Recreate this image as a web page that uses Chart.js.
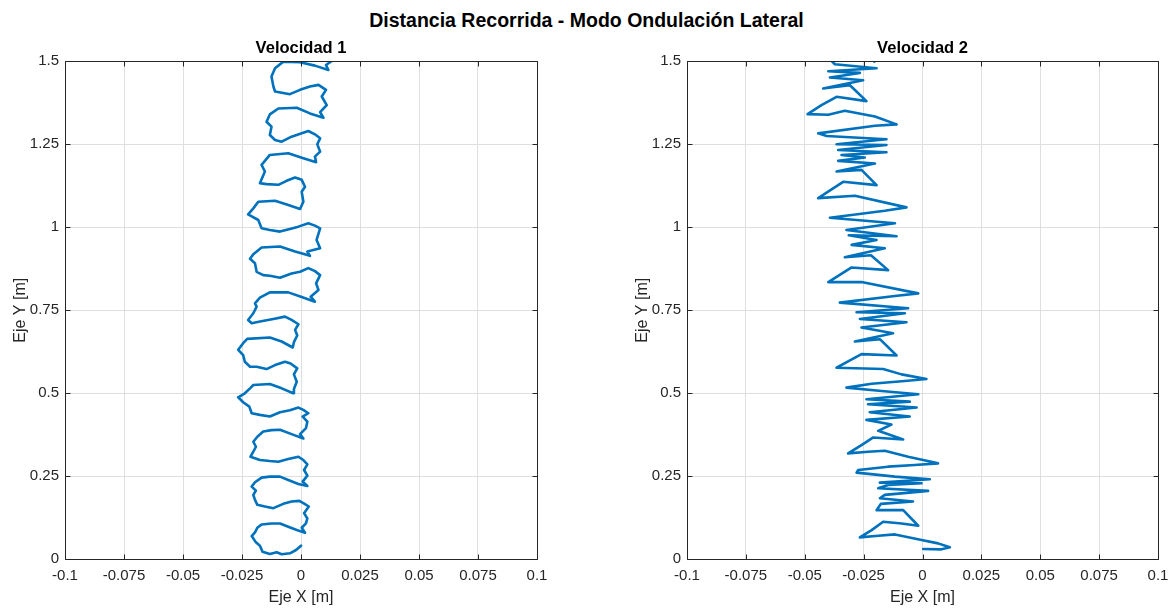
<!DOCTYPE html>
<html>
<head>
<meta charset="utf-8">
<script src="https://cdn.jsdelivr.net/npm/chart.js@4.4.1/dist/chart.umd.min.js"></script>
<style>
  html, body { margin: 0; padding: 0; background: #fff; }
  #wrap { position: relative; width: 1172px; height: 610px; background: #fff; overflow: hidden; }
  #mainTitle { position: absolute; left: 0; width: 1173px; top: 9.5px; height: 20px; line-height: 20px;
    text-align: center; font-family: 'Liberation Sans', Arial, Helvetica, sans-serif; font-weight: bold;
    font-size: 19.5px; color: #000; white-space: nowrap; }
  .pane { position: absolute; top: 0; width: 586px; height: 610px; }
</style>
</head>
<body>
<div id="wrap">
  <div id="mainTitle">Distancia Recorrida - Modo Ondulación Lateral</div>
  <div class="pane" style="left:0"><canvas id="c1" width="586" height="610"></canvas></div>
  <div class="pane" style="left:586px"><canvas id="c2" width="586" height="610"></canvas></div>
</div>
<script>
// ---- Data ----
const mainTitle = 'Distancia Recorrida - Modo Ondulación Lateral';
const subTitles = ['Velocidad 1', 'Velocidad 2'];
const xAxisTitle = 'Eje X [m]';
const yAxisTitle = 'Eje Y [m]';

const xTickValues = [-0.1, -0.075, -0.05, -0.025, 0, 0.025, 0.05, 0.075, 0.1];
const xTickLabels = ['-0.1', '-0.075', '-0.05', '-0.025', '0', '0.025', '0.05', '0.075', '0.1'];
const yTickValues = [0, 0.25, 0.5, 0.75, 1, 1.25, 1.5];
const yTickLabels = ['0', '0.25', '0.5', '0.75', '1', '1.25', '1.5'];

// Velocidad 1 trajectory
const v1X = [0.0000,-0.0021,-0.0047,-0.0082,-0.0103,-0.0132,-0.0163,-0.0174,-0.0191,-0.0209,
-0.0195,-0.0185,-0.0167,-0.0125,-0.0089,-0.0054,-0.0018,0.0017,0.0003,0.0021,
0.0027,0.0013,0.0033,0.0010,-0.0007,-0.0040,-0.0075,-0.0117,-0.0153,-0.0185,
-0.0195,-0.0202,-0.0191,-0.0209,-0.0195,-0.0167,-0.0132,-0.0089,-0.0054,-0.0011,
0.0027,0.0007,0.0027,0.0013,0.0027,0.0010,-0.0011,-0.0054,-0.0096,-0.0132,
-0.0174,-0.0214,-0.0202,-0.0191,-0.0202,-0.0185,-0.0160,-0.0125,-0.0089,-0.0040,
0.0010,-0.0004,0.0021,0.0027,0.0007,0.0031,0.0010,-0.0011,-0.0047,-0.0089,
-0.0132,-0.0174,-0.0209,-0.0219,-0.0245,-0.0266,-0.0238,-0.0216,-0.0202,-0.0132,
-0.0082,-0.0033,-0.0030,-0.0018,-0.0030,-0.0016,-0.0044,-0.0068,-0.0110,-0.0146,
-0.0188,-0.0216,-0.0238,-0.0245,-0.0266,-0.0245,-0.0228,-0.0132,-0.0082,-0.0035,
-0.0030,-0.0016,-0.0025,-0.0011,-0.0040,-0.0068,-0.0117,-0.0174,-0.0209,-0.0224,
-0.0202,-0.0188,-0.0195,-0.0174,-0.0132,-0.0054,0.0003,0.0059,0.0041,0.0074,
0.0064,0.0081,0.0059,0.0031,-0.0004,-0.0040,-0.0089,-0.0132,-0.0160,-0.0188,
-0.0195,-0.0216,-0.0202,-0.0167,-0.0089,-0.0025,0.0038,0.0027,0.0081,0.0066,
0.0081,0.0059,0.0031,-0.0011,-0.0047,-0.0089,-0.0132,-0.0167,-0.0181,-0.0224,
-0.0202,-0.0181,-0.0110,-0.0054,-0.0004,0.0010,0.0003,0.0017,0.0003,-0.0025,
-0.0061,-0.0096,-0.0146,-0.0174,-0.0153,-0.0167,-0.0132,-0.0054,0.0010,0.0064,
0.0059,0.0081,0.0069,0.0081,0.0059,0.0031,-0.0040,-0.0082,-0.0110,-0.0132,
-0.0125,-0.0146,-0.0132,-0.0096,-0.0018,0.0038,0.0095,0.0081,0.0109,0.0088,
0.0106,0.0074,0.0038,-0.0004,-0.0047,-0.0110,-0.0117,-0.0125,-0.0110,-0.0075,
-0.0004,0.0059,0.0116,0.0106,0.0137,0.0151];
const v1Y = [0.041,0.028,0.018,0.015,0.021,0.016,0.023,0.041,0.051,0.070,
0.081,0.095,0.105,0.108,0.108,0.098,0.088,0.080,0.095,0.108,
0.123,0.139,0.159,0.169,0.176,0.174,0.167,0.154,0.159,0.164,
0.179,0.194,0.207,0.219,0.232,0.246,0.249,0.249,0.239,0.227,
0.221,0.234,0.252,0.269,0.286,0.299,0.309,0.302,0.294,0.296,
0.299,0.309,0.324,0.339,0.354,0.369,0.385,0.389,0.390,0.377,
0.364,0.377,0.395,0.415,0.430,0.440,0.450,0.457,0.449,0.443,
0.430,0.435,0.440,0.460,0.473,0.488,0.500,0.515,0.525,0.528,
0.515,0.500,0.513,0.535,0.557,0.575,0.590,0.595,0.585,0.573,
0.580,0.580,0.595,0.615,0.631,0.651,0.664,0.668,0.656,0.638,
0.654,0.674,0.691,0.708,0.721,0.731,0.724,0.716,0.711,0.721,
0.741,0.761,0.771,0.788,0.804,0.804,0.790,0.776,0.791,0.811,
0.831,0.856,0.868,0.877,0.866,0.861,0.848,0.854,0.856,0.866,
0.892,0.905,0.919,0.939,0.942,0.927,0.914,0.927,0.937,0.962,
0.997,1.005,1.012,1.002,0.995,0.987,0.992,0.997,1.022,1.039,
1.057,1.077,1.080,1.067,1.055,1.077,1.107,1.122,1.143,1.150,
1.140,1.128,1.130,1.133,1.168,1.188,1.218,1.223,1.208,1.196,
1.213,1.228,1.250,1.268,1.280,1.290,1.273,1.258,1.263,1.278,
1.303,1.318,1.340,1.358,1.360,1.343,1.330,1.347,1.368,1.394,
1.414,1.429,1.424,1.414,1.401,1.409,1.424,1.454,1.479,1.499,
1.497,1.487,1.474,1.489,1.504,1.514];

// Velocidad 2 trajectory
const v2X = [0.0003,0.0081,0.0116,0.0066,-0.0004,-0.0117,-0.0188,-0.0266,-0.0216,-0.0167,
-0.0089,-0.0018,-0.0082,-0.0195,-0.0177,-0.0040,-0.0181,-0.0160,0.0024,-0.0188,
-0.0146,-0.0004,-0.0181,0.0031,-0.0117,-0.0280,-0.0273,-0.0146,-0.0033,0.0066,
-0.0061,-0.0160,-0.0231,-0.0316,-0.0259,-0.0209,-0.0146,-0.0082,-0.0188,-0.0132,
-0.0238,-0.0054,-0.0224,-0.0025,-0.0231,-0.0054,-0.0238,-0.0018,-0.0174,-0.0323,
-0.0216,-0.0075,0.0017,-0.0089,-0.0167,-0.0365,-0.0316,-0.0259,-0.0110,-0.0181,
-0.0287,-0.0125,-0.0259,-0.0068,-0.0266,-0.0075,-0.0280,-0.0061,-0.0351,-0.0117,
-0.0018,-0.0259,-0.0400,-0.0301,-0.0146,-0.0219,-0.0330,-0.0160,-0.0301,-0.0195,
-0.0313,-0.0110,-0.0323,-0.0117,-0.0393,-0.0160,-0.0068,-0.0287,-0.0443,-0.0386,
-0.0337,-0.0195,-0.0259,-0.0365,-0.0202,-0.0358,-0.0245,-0.0344,-0.0153,-0.0358,
-0.0153,-0.0365,-0.0153,-0.0407,-0.0443,-0.0202,-0.0110,-0.0202,-0.0330,-0.0400,
-0.0488,-0.0429,-0.0365,-0.0238,-0.0308,-0.0372,-0.0422,-0.0252,-0.0393,-0.0266,
-0.0400,-0.0195,-0.0372,-0.0393,-0.0386,-0.0231,-0.0205];
const v2Y = [0.031,0.030,0.036,0.048,0.058,0.075,0.071,0.066,0.088,0.113,
0.108,0.101,0.148,0.148,0.167,0.174,0.184,0.194,0.206,0.214,
0.224,0.229,0.231,0.241,0.249,0.261,0.269,0.279,0.284,0.289,
0.309,0.327,0.324,0.319,0.344,0.367,0.364,0.361,0.387,0.406,
0.420,0.430,0.443,0.457,0.467,0.475,0.482,0.497,0.507,0.517,
0.529,0.537,0.543,0.557,0.573,0.577,0.596,0.618,0.614,0.663,
0.656,0.681,0.698,0.714,0.724,0.741,0.744,0.756,0.773,0.793,
0.801,0.835,0.835,0.879,0.871,0.916,0.910,0.937,0.947,0.962,
0.976,0.973,0.992,1.012,1.029,1.050,1.060,1.095,1.088,1.114,
1.137,1.127,1.173,1.168,1.192,1.200,1.210,1.218,1.226,1.233,
1.248,1.250,1.265,1.275,1.283,1.306,1.310,1.334,1.351,1.339,
1.341,1.368,1.393,1.380,1.428,1.423,1.418,1.443,1.451,1.465,
1.470,1.479,1.491,1.506,1.529,1.527,1.499];

// ---- Styling ----
const FONT = "'Liberation Sans', Arial, Helvetica, sans-serif";
const AX = '#262626';
const LINE = '#0072BD';
const GRID = '#dfdfdf';

document.getElementById('mainTitle').textContent = mainTitle;

const boxPlugin = {
  id: 'matlabBox',
  afterDraw(chart) {
    const { ctx, chartArea: a, scales: { x, y } } = chart;
    const L = 5;
    const top = Math.round(a.top) + 0.5, bottom = Math.round(a.bottom) + 0.5;
    const left = Math.round(a.left) + 0.5, right = Math.round(a.right) + 0.5;
    ctx.save();
    ctx.strokeStyle = AX;
    ctx.lineWidth = 1;
    ctx.beginPath();
    x.ticks.forEach(t => {
      const p = Math.round(x.getPixelForValue(t.value)) + 0.5;
      ctx.moveTo(p, bottom); ctx.lineTo(p, bottom - L);
      ctx.moveTo(p, top); ctx.lineTo(p, top + L);
    });
    y.ticks.forEach(t => {
      const p = Math.round(y.getPixelForValue(t.value)) + 0.5;
      ctx.moveTo(left, p); ctx.lineTo(left + L, p);
      ctx.moveTo(right, p); ctx.lineTo(right - L, p);
    });
    ctx.moveTo(left, top); ctx.lineTo(right, top); ctx.lineTo(right, bottom);
    ctx.lineTo(left, bottom); ctx.closePath();
    ctx.stroke();
    ctx.restore();
  }
};

function makeChart(canvasId, title, xs, ys, padLeft, padRight) {
  const pts = xs.map((v, i) => ({ x: v, y: ys[i] }));
  return new Chart(document.getElementById(canvasId), {
    type: 'scatter',
    data: {
      datasets: [{
        data: pts,
        showLine: true,
        borderColor: LINE,
        backgroundColor: LINE,
        borderWidth: 2.6,
        pointRadius: 0,
        pointHoverRadius: 0,
        tension: 0,
        borderJoinStyle: 'round',
        borderCapStyle: 'round',
        fill: false
      }]
    },
    options: {
      responsive: false,
      animation: false,
      events: [],
      layout: { padding: { left: padLeft, right: padRight, top: 0, bottom: 0 } },
      plugins: {
        legend: { display: false },
        tooltip: { enabled: false },
        title: {
          display: true, text: title, color: '#000', fullSize: false,
          font: { family: FONT, size: 16.5, weight: 'bold', lineHeight: 1.2 },
          padding: { top: 38.3, bottom: 3.2 }
        }
      },
      scales: {
        x: {
          type: 'linear', position: 'bottom', min: -0.1, max: 0.1,
          afterBuildTicks: s => { s.ticks = xTickValues.map(v => ({ value: v })); },
          afterFit: s => { s.height = 50.7; s.paddingLeft = 0; s.paddingRight = 0; },
          ticks: {
            autoSkip: false, maxRotation: 0, minRotation: 0, padding: 8, color: AX,
            font: { family: FONT, size: 15, lineHeight: 1.2 },
            callback: (v, i) => xTickLabels[i]
          },
          grid: { color: GRID, lineWidth: 1, drawTicks: false },
          border: { display: false },
          title: {
            display: true, text: xAxisTitle, color: AX,
            font: { family: FONT, size: 16, lineHeight: 1.2 },
            padding: { top: 0, bottom: 2.9 }
          }
        },
        y: {
          type: 'linear', position: 'left', min: 0, max: 1.5,
          afterBuildTicks: s => { s.ticks = yTickValues.map(v => ({ value: v })); },
          afterFit: s => { s.width = 65; },
          ticks: {
            autoSkip: false, padding: 6, color: AX,
            font: { family: FONT, size: 15, lineHeight: 1.2 },
            callback: (v, i) => yTickLabels[i]
          },
          grid: { color: GRID, lineWidth: 1, drawTicks: false },
          border: { display: false },
          title: {
            display: true, text: yAxisTitle, color: AX,
            font: { family: FONT, size: 16, lineHeight: 1.2 },
            padding: { top: 11.2, bottom: 0 }
          }
        }
      }
    },
    plugins: [boxPlugin]
  });
}

makeChart('c1', subTitles[0], v1X, v1Y, 0, 49);
makeChart('c2', subTitles[1], v2X, v2Y, 36, 14);
</script>
</body>
</html>
